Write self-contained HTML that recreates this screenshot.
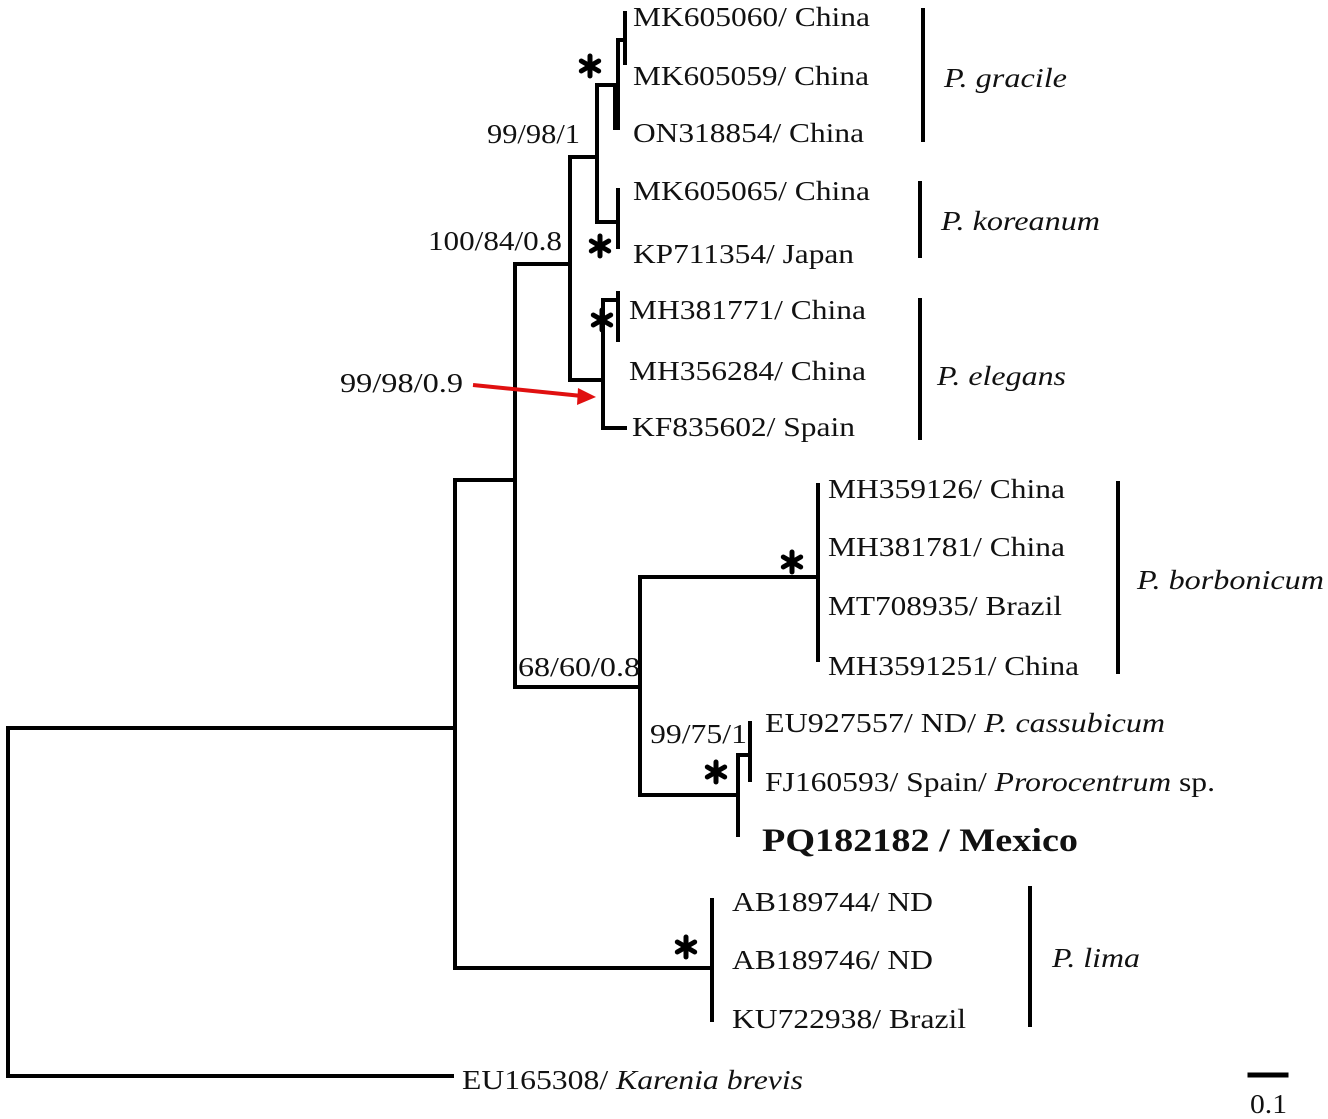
<!DOCTYPE html>
<html><head><meta charset="utf-8"><style>
html,body{margin:0;padding:0;background:#fff}
svg{display:block}
text{font-family:"Liberation Serif",serif;font-size:27px;fill:#111}
.i{font-style:italic}
</style></head><body>
<svg width="1328" height="1119" viewBox="0 0 1328 1119" xmlns="http://www.w3.org/2000/svg">
<defs>
<g id="ast" stroke="#000" stroke-width="5" stroke-linecap="round">
<line x1="0" y1="-10" x2="0" y2="10"/>
<line x1="-8.7" y1="-5" x2="8.7" y2="5"/>
<line x1="-8.7" y1="5" x2="8.7" y2="-5"/>
</g>
</defs>
<g stroke="#000" stroke-width="4" fill="none" stroke-linecap="square">
<path d="M8 728V1076M8 728H455M8 1076H452"/>
<path d="M455 480V968M455 480H515M455 968H712M712 900V1020"/>
<path d="M515 264V687M515 264H570M570 157V380M570 157H597"/>
<path d="M597 85V222M597 85H615M615 85V128M615 128H618M618 40V128M618 40H625M625 13V63"/>
<path d="M597 222H618M618 190V247"/>
<path d="M570 380H603M603 300V428M603 428H625M603 300H618M618 293V340"/>
<path d="M515 687H640M640 577V795M640 577H818M818 485V660"/>
<path d="M640 795H738M738 755V835M738 755H750M750 723V780"/>
<path d="M923 10V140M920 183V256M920 300V438M1118 483V672M1030 888V1025"/>
<path d="M1250 1075H1286" stroke-width="5"/>
</g>
<line x1="473" y1="385" x2="582" y2="396" stroke="#e01010" stroke-width="4"/>
<polygon points="596,397 578,388 577,405" fill="#e01010"/>
<g lengthAdjust="spacingAndGlyphs">
<text x="633" y="26" textLength="237" lengthAdjust="spacingAndGlyphs">MK605060/ China</text>
<text x="633" y="85" textLength="236" lengthAdjust="spacingAndGlyphs">MK605059/ China</text>
<text x="633" y="142" textLength="231" lengthAdjust="spacingAndGlyphs">ON318854/ China</text>
<text x="633" y="200" textLength="237" lengthAdjust="spacingAndGlyphs">MK605065/ China</text>
<text x="633" y="263" textLength="221" lengthAdjust="spacingAndGlyphs">KP711354/ Japan</text>
<text x="629" y="319" textLength="237" lengthAdjust="spacingAndGlyphs">MH381771/ China</text>
<text x="629" y="380" textLength="237" lengthAdjust="spacingAndGlyphs">MH356284/ China</text>
<text x="632" y="436" textLength="223" lengthAdjust="spacingAndGlyphs">KF835602/ Spain</text>
<text x="828" y="498" textLength="237" lengthAdjust="spacingAndGlyphs">MH359126/ China</text>
<text x="828" y="556" textLength="237" lengthAdjust="spacingAndGlyphs">MH381781/ China</text>
<text x="828" y="615" textLength="234" lengthAdjust="spacingAndGlyphs">MT708935/ Brazil</text>
<text x="828" y="675" textLength="251" lengthAdjust="spacingAndGlyphs">MH3591251/ China</text>
<text x="765" y="732" textLength="400" lengthAdjust="spacingAndGlyphs">EU927557/ ND/ <tspan class="i">P. cassubicum</tspan></text>
<text x="765" y="791" textLength="450" lengthAdjust="spacingAndGlyphs">FJ160593/ Spain/ <tspan class="i">Prorocentrum</tspan> sp.</text>
<text x="762" y="851" textLength="316" lengthAdjust="spacingAndGlyphs" style="font-weight:bold;font-size:33px">PQ182182 / Mexico</text>
<text x="732" y="911" textLength="201" lengthAdjust="spacingAndGlyphs">AB189744/ ND</text>
<text x="732" y="969" textLength="201" lengthAdjust="spacingAndGlyphs">AB189746/ ND</text>
<text x="732" y="1028" textLength="234" lengthAdjust="spacingAndGlyphs">KU722938/ Brazil</text>
<text x="462" y="1089" textLength="341" lengthAdjust="spacingAndGlyphs">EU165308/ <tspan class="i">Karenia brevis</tspan></text>
<text x="944" y="87" class="i" textLength="123" lengthAdjust="spacingAndGlyphs">P. gracile</text>
<text x="941" y="230" class="i" textLength="159" lengthAdjust="spacingAndGlyphs">P. koreanum</text>
<text x="937" y="385" class="i" textLength="129" lengthAdjust="spacingAndGlyphs">P. elegans</text>
<text x="1137" y="589" class="i" textLength="187" lengthAdjust="spacingAndGlyphs">P. borbonicum</text>
<text x="1052" y="967" class="i" textLength="88" lengthAdjust="spacingAndGlyphs">P. lima</text>
<text x="487" y="143" textLength="93" lengthAdjust="spacingAndGlyphs">99/98/1</text>
<text x="428" y="250" textLength="134" lengthAdjust="spacingAndGlyphs">100/84/0.8</text>
<text x="340" y="392" textLength="123" lengthAdjust="spacingAndGlyphs">99/98/0.9</text>
<text x="518" y="676" textLength="122" lengthAdjust="spacingAndGlyphs">68/60/0.8</text>
<text x="650" y="743" textLength="97" lengthAdjust="spacingAndGlyphs">99/75/1</text>
<text x="1250" y="1113" textLength="37" lengthAdjust="spacingAndGlyphs">0.1</text>
</g>
<use href="#ast" x="590" y="66"/>
<use href="#ast" x="600" y="246"/>
<use href="#ast" x="602" y="320"/>
<use href="#ast" x="792" y="562"/>
<use href="#ast" x="716" y="772"/>
<use href="#ast" x="686" y="947"/>
</svg>
</body></html>
